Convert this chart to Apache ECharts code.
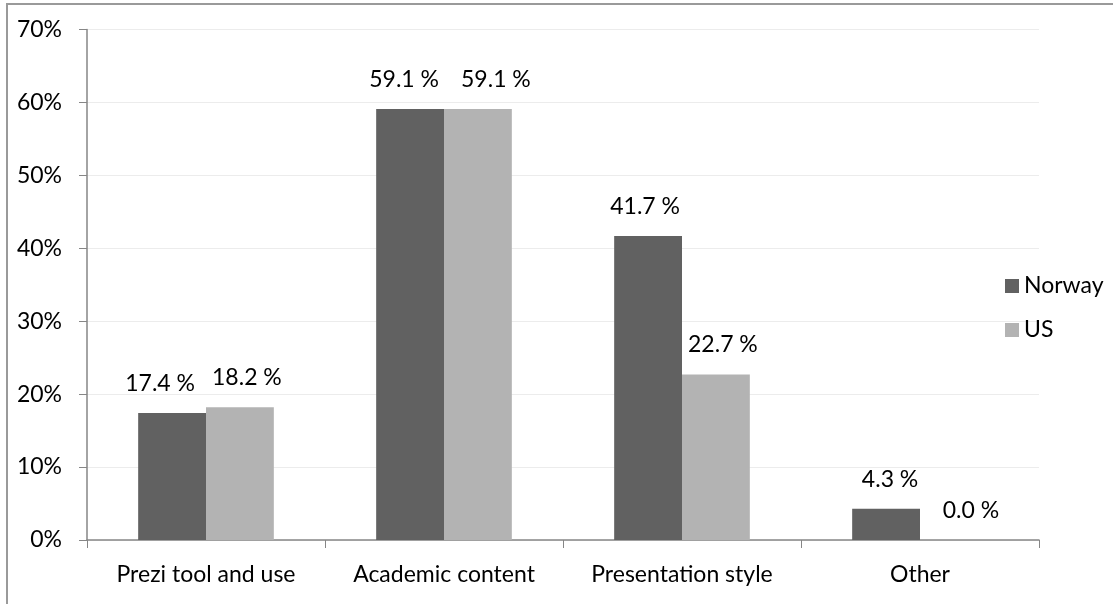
<!DOCTYPE html>
<html>
<head>
<meta charset="utf-8">
<script src="https://cdn.jsdelivr.net/npm/echarts@6/dist/echarts.min.js"></script>
<style>
  html, body { margin: 0; padding: 0; background: #fff; }
  #chart { width: 1113px; height: 604px; }
</style>
</head>
<body>
<div id="chart"></div>
<script>
// Reasons given, by country (percent of respondents)
const categories = ['Prezi tool and use', 'Academic content', 'Presentation style', 'Other'];
const norway = [17.4, 59.1, 41.7, 4.3];
const us = [18.2, 59.1, 22.7, 0.0];
const yTicks = [0, 10, 20, 30, 40, 50, 60, 70];

// Horizontal nudges so neighbouring value labels don't collide
const norwayLabelShift = [-12, -6, -3, 4];
const usLabelShift = [7, 18, 7, 17];

const FONT = 'Lato';
const FS = 23;
const chart = echarts.init(document.getElementById('chart'));

const labelStyle = {
  show: true,
  position: 'top',
  distance: 18,
  color: '#000',
  fontFamily: FONT,
  fontSize: FS,
  formatter: p => p.value.toFixed(1) + ' %'
};

const withShift = (values, shifts) =>
  values.map((v, i) => ({ value: v, label: { offset: [shifts[i], 0] } }));

chart.setOption({
  animation: false,
  textStyle: { fontFamily: FONT },
  graphic: [{
    type: 'rect',
    shape: { x: 7, y: 4, width: 1300, height: 800 },
    style: { fill: 'none', stroke: '#9a9a9a', lineWidth: 2 },
    silent: true
  }],
  grid: { left: 87, right: 74, top: 29.5, bottom: 64 },
  legend: {
    orient: 'vertical',
    left: 1000,
    top: 269.5,
    itemWidth: 14,
    itemHeight: 14,
    itemGap: 21,
    icon: 'rect',
    textStyle: { fontFamily: FONT, fontSize: FS, color: '#000' },
    data: ['Norway', 'US']
  },
  xAxis: {
    type: 'category',
    data: categories,
    axisLine: { lineStyle: { color: '#868686', width: 1.5 } },
    axisTick: { show: true, length: 8, lineStyle: { color: '#868686' } },
    axisLabel: { margin: 23, color: '#000', fontFamily: FONT, fontSize: FS }
  },
  yAxis: {
    type: 'value',
    min: yTicks[0],
    max: yTicks[yTicks.length - 1],
    interval: 10,
    axisLine: { show: true, lineStyle: { color: '#868686', width: 1.5 } },
    axisTick: { show: true, length: 8, lineStyle: { color: '#868686' } },
    axisLabel: { margin: 25, color: '#000', fontFamily: FONT, fontSize: FS, formatter: '{value}%' },
    splitLine: { lineStyle: { color: '#ececec', width: 1 } }
  },
  series: [
    {
      name: 'Norway',
      type: 'bar',
      data: withShift(norway, norwayLabelShift),
      barGap: '0%',
      barCategoryGap: '43%',
      itemStyle: { color: '#616161' },
      label: labelStyle
    },
    {
      name: 'US',
      type: 'bar',
      data: withShift(us, usLabelShift),
      itemStyle: { color: '#b3b3b3' },
      label: labelStyle
    }
  ]
});
</script>
</body>
</html>
